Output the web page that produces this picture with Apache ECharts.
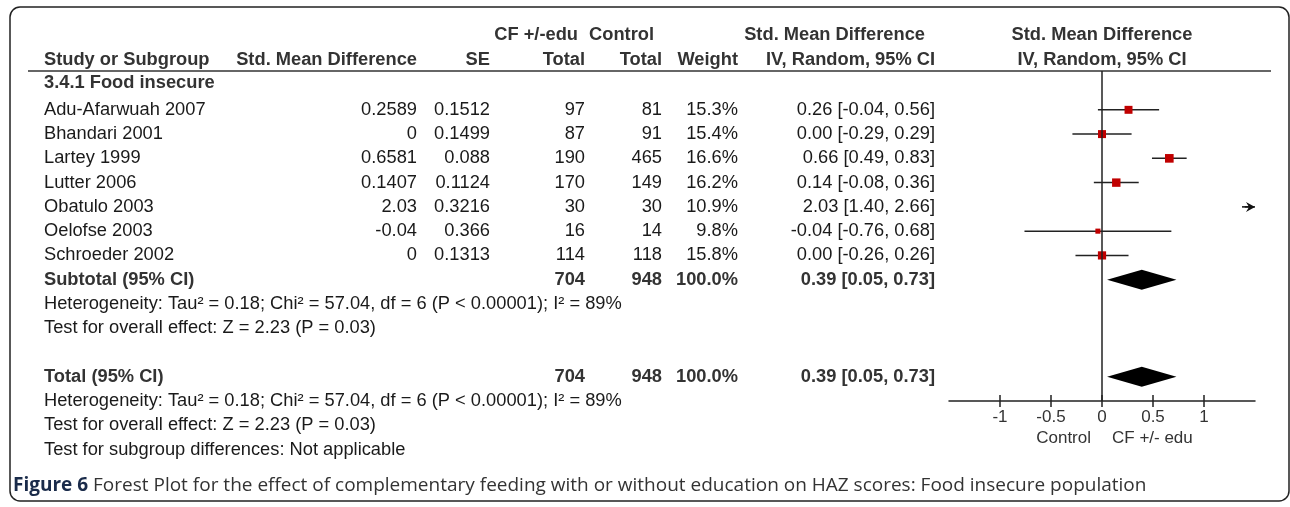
<!DOCTYPE html>
<html>
<head>
<meta charset="utf-8">
<script src="https://cdn.jsdelivr.net/npm/echarts@6/dist/echarts.min.js"></script>
<style>
html,body{margin:0;padding:0;background:#fff;}
#c{width:1290px;height:507px;}
</style>
</head>
<body>
<div id="c"></div>
<script>
// ---------------- data ----------------
const studies = ['Adu-Afarwuah 2007','Bhandari 2001','Lartey 1999','Lutter 2006','Obatulo 2003','Oelofse 2003','Schroeder 2002'];
const smd = [0.2589, 0, 0.6581, 0.1407, 2.03, -0.04, 0];
const se = [0.1512, 0.1499, 0.088, 0.1124, 0.3216, 0.366, 0.1313];
const cfTotal = [97, 87, 190, 170, 30, 16, 114];
const ctrlTotal = [81, 91, 465, 149, 30, 14, 118];
const weight = [15.3, 15.4, 16.6, 16.2, 10.9, 9.8, 15.8];
const est = [0.26, 0.00, 0.66, 0.14, 2.03, -0.04, 0.00];
const ciLow = [-0.04, -0.29, 0.49, -0.08, 1.40, -0.76, -0.26];
const ciHigh = [0.56, 0.29, 0.83, 0.36, 2.66, 0.68, 0.26];

const pooledLabels = ['Subtotal (95% CI)', 'Total (95% CI)'];
const pooledCf = [704, 704];
const pooledCtrl = [948, 948];
const pooledWeight = [100.0, 100.0];
const pooledEst = [0.39, 0.39];
const pooledLow = [0.05, 0.05];
const pooledHigh = [0.73, 0.73];

const subgroupTitle = '3.4.1 Food insecure';
const heterogeneity = 'Heterogeneity: Tau\u00B2 = 0.18; Chi\u00B2 = 57.04, df = 6 (P < 0.00001); I\u00B2 = 89%';
const overallEffect = 'Test for overall effect: Z = 2.23 (P = 0.03)';
const subgroupDiff = 'Test for subgroup differences: Not applicable';
const xTicks = [-1, -0.5, 0, 0.5, 1];
const favourLeft = 'Control';
const favourRight = 'CF +/- edu';
const captionLead = 'Figure 6';
const caption = 'Forest Plot for the effect of complementary feeding with or without education on HAZ scores: Food insecure population';

// ---------------- layout ----------------
const X_MIN = -1.5, X_MAX = 1.5;
const ROW_STUDY0 = 0;
const ROW_HEADING = -1.1;
const ROW_SUB = 7, ROW_SUB_HET = 8, ROW_SUB_TEST = 9;
const ROW_TOT = 11, ROW_TOT_HET = 12, ROW_TOT_TEST = 13, ROW_DIFF = 14;
const col = {study:44, smd:417, se:490, cf:585, ctrl:662, w:738, ci:935};
const FONT = '"Liberation Sans", Arial, sans-serif';
const FS = 18.3;
const TXT = '#1a1a1a';
const BOLD = '#333333';

const chart = echarts.init(document.getElementById('c'), null, {renderer:'canvas'});

const studyData = studies.map((s, i) => [est[i], ROW_STUDY0 + i, ciLow[i], ciHigh[i], weight[i]]);
const pooledRows = [ROW_SUB, ROW_TOT];
const diamondData = pooledRows.map((r, i) => [pooledEst[i], r, pooledLow[i], pooledHigh[i]]);

function arrowRight(xt, y) {
  return [
    {type:'line', shape:{x1:xt-13, y1:y, x2:xt-5, y2:y}, style:{stroke:'#111', lineWidth:1.5}},
    {type:'polygon', shape:{points:[[xt, y], [xt-9, y-5], [xt-6, y], [xt-9, y+5]]}, style:{fill:'#111'}}
  ];
}
function arrowLeft(xt, y) {
  return [
    {type:'line', shape:{x1:xt+13, y1:y, x2:xt+5, y2:y}, style:{stroke:'#111', lineWidth:1.5}},
    {type:'polygon', shape:{points:[[xt, y], [xt+9, y-5], [xt+6, y], [xt+9, y+5]]}, style:{fill:'#111'}}
  ];
}

const option = {
  animation: false,
  backgroundColor: '#ffffff',
  grid: {left: 949, width: 306, top: 71, height: 330, containLabel: false},
  xAxis: [{
    type: 'value', min: X_MIN, max: X_MAX, interval: 0.5, position: 'bottom',
    axisLine: {show: true, onZero: false, lineStyle: {color: '#222', width: 1.5}},
    axisTick: {show: true, inside: true, length: 6, customValues: xTicks, lineStyle: {color: '#222', width: 1.5}},
    axisLabel: {show: true, customValues: xTicks, margin: 8, fontFamily: FONT, fontSize: 17, color: '#333',
      formatter: v => String(v)},
    splitLine: {show: false}
  }, {
    type: 'value', min: X_MIN, max: X_MAX, interval: 0.5, position: 'bottom',
    axisLine: {show: false, onZero: false},
    axisTick: {show: true, inside: false, length: 6, customValues: xTicks, lineStyle: {color: '#222', width: 1.5}},
    axisLabel: {show: false},
    splitLine: {show: false}
  }],
  yAxis: {type: 'value', min: -1.6, max: 12, inverse: true, show: false},
  series: [{
    type: 'custom',
    coordinateSystem: 'cartesian2d',
    clip: false,
    data: studyData,
    encode: {x: 0, y: 1},
    renderItem: function (params, api) {
      const e = api.value(0), r = api.value(1), lo = api.value(2), hi = api.value(3), w = api.value(4);
      const y = api.coord([0, r])[1];
      const xmin = api.coord([X_MIN, r])[0], xmax = api.coord([X_MAX, r])[0];
      let children = [];
      if (lo > X_MAX) {
        children = children.concat(arrowRight(xmax, y));
      } else if (hi < X_MIN) {
        children = children.concat(arrowLeft(xmin, y));
      } else {
        const xl = api.coord([Math.max(lo, X_MIN), r])[0];
        const xh = api.coord([Math.min(hi, X_MAX), r])[0];
        children.push({type: 'line', shape: {x1: xl, y1: y, x2: xh, y2: y}, style: {stroke: '#222', lineWidth: 1.5}});
        if (hi > X_MAX) children = children.concat(arrowRight(xh, y));
        if (lo < X_MIN) children = children.concat(arrowLeft(xl, y));
        if (e >= X_MIN && e <= X_MAX) {
          const xe = api.coord([e, r])[0];
          const s = w * 0.52;
          children.push({type: 'rect', shape: {x: xe - s / 2, y: y - s / 2, width: s, height: s}, style: {fill: '#c00000'}});
        }
      }
      return {type: 'group', children: children};
    },
    markLine: {
      silent: true, symbol: 'none', label: {show: false},
      lineStyle: {color: '#222', width: 1.5, type: 'solid'},
      data: [{xAxis: 0}]
    }
  }, {
    type: 'custom',
    coordinateSystem: 'cartesian2d',
    clip: false,
    data: diamondData,
    encode: {x: 0, y: 1},
    renderItem: function (params, api) {
      const r = api.value(1);
      const pe = api.coord([api.value(0), r]);
      const pl = api.coord([api.value(2), r]);
      const ph = api.coord([api.value(3), r]);
      const h = 10;
      return {type: 'polygon', shape: {points: [[pl[0], pl[1]], [pe[0], pe[1] - h], [ph[0], ph[1]], [pe[0], pe[1] + h]]},
        style: {fill: '#000'}};
    }
  }]
};
chart.setOption(option);

// ---------------- text (table) ----------------
function rowY(r) { return chart.convertToPixel({gridIndex: 0}, [0, r])[1]; }
const x0 = chart.convertToPixel({gridIndex: 0}, [0, 0])[0];

function txt(text, x, y, align, bold, color, size) {
  return {type: 'text', x: x, y: y, silent: true,
    style: {text: text, align: align, verticalAlign: 'middle',
      font: (bold ? 'bold ' : '') + (size || FS) + 'px ' + FONT, fill: color || (bold ? BOLD : TXT)}};
}
const g = [];
// frame
g.push({type: 'rect', shape: {x: 10, y: 7, width: 1279, height: 494, r: 10}, silent: true,
  style: {fill: 'none', stroke: '#222', lineWidth: 1.5}});
// header
const H1 = 35, H2 = 60;
g.push(txt('CF +/-edu', 578, H1, 'right', true));
g.push(txt('Control', 654, H1, 'right', true));
g.push(txt('Std. Mean Difference', 925, H1, 'right', true));
g.push(txt('Std. Mean Difference', x0, H1, 'center', true));
g.push(txt('Study or Subgroup', col.study, H2, 'left', true));
g.push(txt('Std. Mean Difference', col.smd, H2, 'right', true));
g.push(txt('SE', col.se, H2, 'right', true));
g.push(txt('Total', col.cf, H2, 'right', true));
g.push(txt('Total', col.ctrl, H2, 'right', true));
g.push(txt('Weight', col.w, H2, 'right', true));
g.push(txt('IV, Random, 95% CI', col.ci, H2, 'right', true));
g.push(txt('IV, Random, 95% CI', x0, H2, 'center', true));
g.push({type: 'line', silent: true, shape: {x1: 28, y1: 71, x2: 1271, y2: 71}, style: {stroke: '#333', lineWidth: 1.5}});
// subgroup heading
g.push(txt(subgroupTitle, col.study, rowY(ROW_HEADING), 'left', true));
// studies
studies.forEach((s, i) => {
  const y = rowY(ROW_STUDY0 + i);
  g.push(txt(s, col.study, y, 'left'));
  g.push(txt(String(smd[i]), col.smd, y, 'right'));
  g.push(txt(String(se[i]), col.se, y, 'right'));
  g.push(txt(String(cfTotal[i]), col.cf, y, 'right'));
  g.push(txt(String(ctrlTotal[i]), col.ctrl, y, 'right'));
  g.push(txt(weight[i].toFixed(1) + '%', col.w, y, 'right'));
  g.push(txt(est[i].toFixed(2) + ' [' + ciLow[i].toFixed(2) + ', ' + ciHigh[i].toFixed(2) + ']', col.ci, y, 'right'));
});
// pooled rows
pooledRows.forEach((r, i) => {
  const y = rowY(r);
  g.push(txt(pooledLabels[i], col.study, y, 'left', true));
  g.push(txt(String(pooledCf[i]), col.cf, y, 'right', true));
  g.push(txt(String(pooledCtrl[i]), col.ctrl, y, 'right', true));
  g.push(txt(pooledWeight[i].toFixed(1) + '%', col.w, y, 'right', true));
  g.push(txt(pooledEst[i].toFixed(2) + ' [' + pooledLow[i].toFixed(2) + ', ' + pooledHigh[i].toFixed(2) + ']', col.ci, y, 'right', true));
});
g.push(txt(heterogeneity, col.study, rowY(ROW_SUB_HET), 'left'));
g.push(txt(overallEffect, col.study, rowY(ROW_SUB_TEST), 'left'));
g.push(txt(heterogeneity, col.study, rowY(ROW_TOT_HET), 'left'));
g.push(txt(overallEffect, col.study, rowY(ROW_TOT_TEST), 'left'));
g.push(txt(subgroupDiff, col.study, rowY(ROW_DIFF), 'left'));
// favour labels
g.push(txt(favourLeft, x0 - 11, 438, 'right', false, '#333', 17));
g.push(txt(favourRight, x0 + 10, 438, 'left', false, '#333', 17));
// caption
g.push({type: 'text', x: 13, y: 486, silent: true,
  style: {text: '{b|' + captionLead + '} ' + caption, verticalAlign: 'middle', align: 'left',
    font: '19px "Open Sans", "Noto Sans", sans-serif', fill: '#333',
    rich: {b: {fontWeight: 'bold', fontSize: 19, fontFamily: '"Open Sans", "Noto Sans", sans-serif', fill: '#1a2b4a'}}}});

chart.setOption({graphic: g});
</script>
</body>
</html>
